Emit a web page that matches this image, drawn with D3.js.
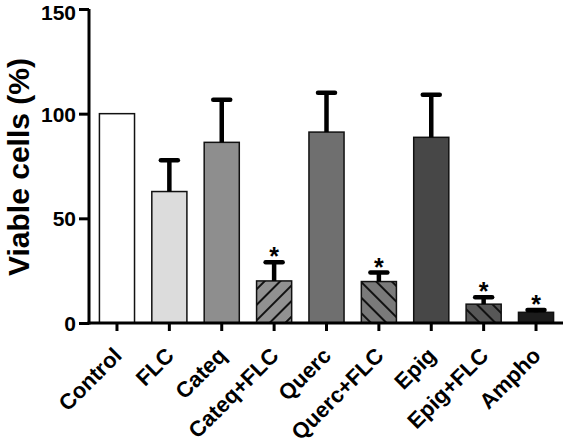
<!DOCTYPE html>
<html><head><meta charset="utf-8">
<script src="https://cdn.jsdelivr.net/npm/d3@7"></script>
<style>body{margin:0;background:#fff}svg{display:block}</style>
</head><body>
<script>
const categories = ["Control","FLC","Cateq","Cateq+FLC","Querc","Querc+FLC","Epig","Epig+FLC","Ampho"];
const values = [100, 62.8, 86.3, 20.1, 91.2, 19.8, 88.7, 9.0, 5.1];
const errors = [0, 14.9, 20.4, 8.9, 18.8, 4.3, 20.3, 3.3, 1.1];
const significant = [false,false,false,true,false,true,false,true,true];
const fills = ["#ffffff","#dcdcdc","#8e8e8e","#919191","#6f6f6f","#7a7a7a","#474747","#575757","#1c1c1c"];
const hatch = [null,null,null,"fwd",null,"back",null,"back",null];
const yTicks = [0,50,100,150];

const W=566,H=444;
const svg=d3.select("body").append("svg").attr("width",W).attr("height",H);
const defs=svg.append("defs");
categories.forEach((c,i)=>{
  if(!hatch[i]) return;
  const s=11;
  const p=defs.append("pattern").attr("id","h"+i).attr("patternUnits","userSpaceOnUse")
    .attr("width",s).attr("height",s)
    .attr("patternTransform","rotate("+(hatch[i]==="fwd"?45:-45)+")");
  p.append("rect").attr("width",s).attr("height",s).attr("fill",fills[i]);
  p.append("line").attr("x1",1).attr("y1",0).attr("x2",1).attr("y2",s).attr("stroke","#111").attr("stroke-width",2);
});

const x0=89, x1=563, yBase=323, yTop=9;
const x=d3.scaleBand().domain(categories).range([x0+1,x1]).paddingInner(0.33).paddingOuter(0.18);
const y=d3.scaleLinear().domain([0,150]).range([yBase,yTop]);

const g=svg.append("g");
g.selectAll("rect.bar").data(categories).join("rect").attr("class","bar")
  .attr("x",d=>x(d)).attr("width",x.bandwidth())
  .attr("y",(d,i)=>y(values[i])).attr("height",(d,i)=>yBase-y(values[i]))
  .attr("fill",(d,i)=>hatch[i]?"url(#h"+i+")":fills[i])
  .attr("stroke","#111").attr("stroke-width",1.5);

const idx=d=>categories.indexOf(d);
const cx=d=>x(d)+x.bandwidth()/2;
const capY=d=>y(values[idx(d)]+errors[idx(d)]);
const eb=g.selectAll("g.err").data(categories.filter((d,i)=>errors[i]>0)).join("g");
eb.append("line")
  .attr("x1",cx).attr("x2",cx)
  .attr("y1",d=>y(values[idx(d)])).attr("y2",capY)
  .attr("stroke","#000").attr("stroke-width",4.5);
eb.append("line")
  .attr("x1",d=>cx(d)-8.5).attr("x2",d=>cx(d)+8.5)
  .attr("y1",capY).attr("y2",capY)
  .attr("stroke","#000").attr("stroke-width",4.5).attr("stroke-linecap","round");

g.selectAll("text.star").data(categories.filter((d,i)=>significant[i])).join("text")
  .attr("x",cx).attr("y",d=>capY(d)+3)
  .attr("text-anchor","middle").attr("font-family","Liberation Sans, Arial, sans-serif")
  .attr("font-weight","bold").attr("font-size",25).text("*");

const ya=svg.append("g").attr("transform",`translate(${x0},0)`)
  .call(d3.axisLeft(y).tickValues(yTicks).tickSize(10).tickSizeOuter(0).tickPadding(3));
ya.select(".domain").attr("stroke","#000").attr("stroke-width",3).attr("d",`M0,${yTop}V${yBase+1.5}`);
ya.selectAll(".tick line").attr("stroke","#000").attr("stroke-width",3);
ya.selectAll(".tick text").attr("font-family","Liberation Sans, Arial, sans-serif")
  .attr("font-weight","bold").attr("font-size",21).attr("fill","#000")
  .attr("dy",d=>d===150?"0.5em":"0.36em");

const xa=svg.append("g").attr("transform",`translate(0,${yBase})`)
  .call(d3.axisBottom(x).tickSize(8).tickSizeOuter(0));
xa.select(".domain").attr("stroke","#000").attr("stroke-width",3).attr("d",`M${x0-1.5},0H${x1}`);
xa.selectAll(".tick line").attr("stroke","#000").attr("stroke-width",3);
xa.selectAll(".tick text").attr("font-family","Liberation Sans, Arial, sans-serif")
  .attr("font-weight","bold").attr("font-size",22).attr("fill","#000")
  .attr("text-anchor","end").attr("x",0).attr("y",0).attr("dy",0)
  .attr("transform","translate(6,34) rotate(-45)");

svg.append("text").attr("transform","translate(29,167) rotate(-90)")
  .attr("text-anchor","middle").attr("font-family","Liberation Sans, Arial, sans-serif")
  .attr("font-weight","bold").attr("font-size",30).text("Viable cells (%)");
</script>
</body></html>
